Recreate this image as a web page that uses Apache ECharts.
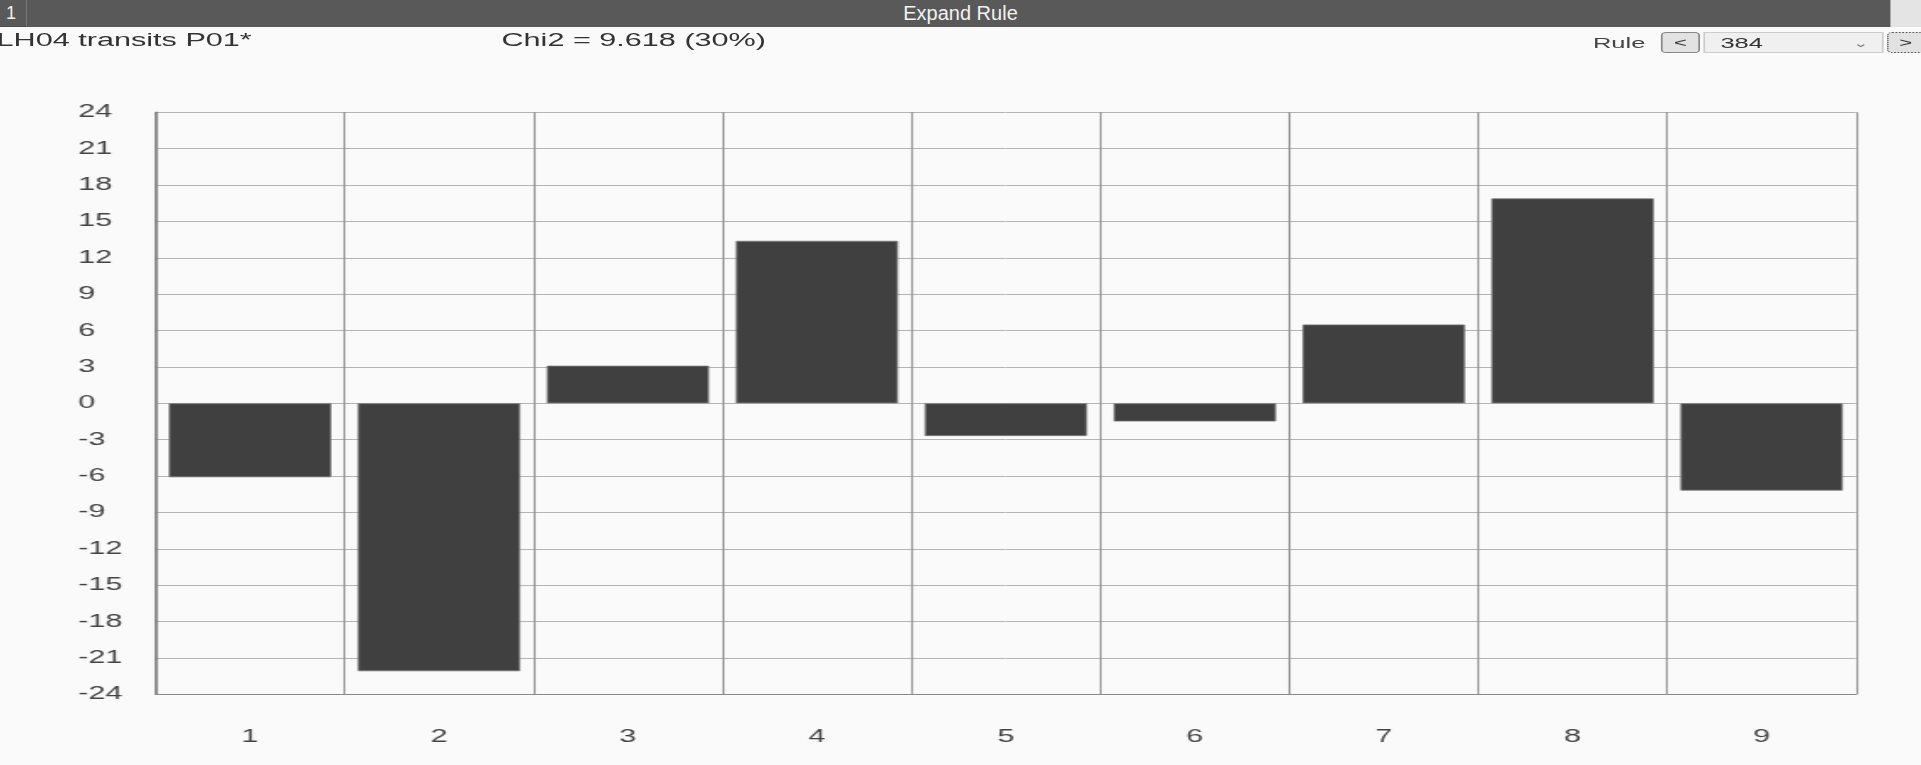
<!DOCTYPE html>
<html>
<head>
<meta charset="utf-8">
<script src="https://cdn.jsdelivr.net/npm/echarts@6/dist/echarts.min.js"></script>
<style>
  body { margin: 0; background: #fafafa; font-family: "Liberation Sans", Arial, sans-serif; overflow: hidden; }
  #head { position: absolute; left: 0; top: 0; width: 1921px; height: 27px; background: #595959; }
  #num { position: absolute; left: 0; top: 0; width: 26px; height: 26px; border-right: 1px solid #777; border-bottom: 1px solid #4a4a4a;
         color: #eee; font-size: 18px; line-height: 27px; text-indent: 6px; }
  #title { position: absolute; left: 0; width: 1921px; top: 0; text-align: center; color: #f2f2f2;
           font-family: "Liberation Sans Narrow", "Liberation Sans", Arial, sans-serif; font-size: 20px; line-height: 27px; }
  #corner { position: absolute; right: 0; top: 0; width: 30px; height: 27px; background: #e4e4e4; border-left: 1px solid #aaa; }
  /* the reference is stretched sideways, so is this block */
  #wrap { position: absolute; left: 0; top: 0; width: 1130px; height: 765px; transform: scaleX(1.7); transform-origin: 0 0; }
  #main { position: absolute; left: 0; top: 0; width: 1130px; height: 765px; }
  .txt { position: absolute; top: 29px; font-size: 18px; color: #333; line-height: 22px; }
  .btn { position: absolute; top: 32px; height: 21px; border: 1px solid #888; border-radius: 3px; background: #e2e2e2;
         font-size: 13px; line-height: 20px; text-align: center; color: #333; box-sizing: border-box; }
</style>
</head>
<body>
<div id="head"><div id="num">1</div><div id="title">Expand Rule</div><div id="corner"></div></div>
<div id="wrap">
  <div id="main"></div>
  <div class="txt" style="left:-2px">LH04 transits P01*</div>
  <div class="txt" style="left:295px">Chi2 = 9.618 (30%)</div>
  <div class="txt" style="left:937px;top:32px;font-size:15px;color:#444">Rule</div>
  <div class="btn" style="left:977px;width:23px">&lt;</div>
  <div class="btn" style="left:1002px;width:106px;border-radius:0;border-color:#ccc;background:#f0f0f0;text-align:left;padding-left:9px;font-size:15px">384<span style="position:absolute;right:8px;font-size:11px;color:#777">&#8964;</span></div>
  <div class="btn" style="left:1110px;width:22px;border:1px dotted #555">&gt;</div>
</div>
<script>
const categories = ['1', '2', '3', '4', '5', '6', '7', '8', '9'];
const values = [-6.1, -22.1, 3.1, 13.4, -2.7, -1.5, 6.5, 16.9, -7.2];
const yMin = -24;
const yMax = 24;
const yStep = 3;

const chart = echarts.init(document.getElementById('main'));
chart.setOption({
  animation: false,
  backgroundColor: 'transparent',
  textStyle: { fontFamily: 'Liberation Sans, Arial, sans-serif' },
  grid: { left: 91.5, right: 38.2, top: 112.3, bottom: 70.7, show: false },
  xAxis: {
    type: 'category',
    data: categories,
    axisTick: { show: false },
    axisLine: { onZero: false, lineStyle: { color: '#8a8a8a', width: 1.2 } },
    splitLine: { show: true, lineStyle: { color: '#939393', width: 1.1 } },
    axisLabel: { color: '#444', fontSize: 18, margin: 34 }
  },
  yAxis: {
    type: 'value',
    min: yMin,
    max: yMax,
    interval: yStep,
    axisTick: { show: false },
    axisLine: { show: true, lineStyle: { color: '#808080', width: 1.5 } },
    splitLine: { lineStyle: { color: '#b4b4b4', width: 1 } },
    axisLabel: { color: '#444', fontSize: 18, align: 'left', margin: 45.6 }
  },
  series: [{
    type: 'bar',
    data: values,
    barCategoryGap: '14%',
    itemStyle: { color: '#404040', borderColor: '#7a7a7a', borderWidth: 0.8 }
  }]
});
</script>
</body>
</html>
